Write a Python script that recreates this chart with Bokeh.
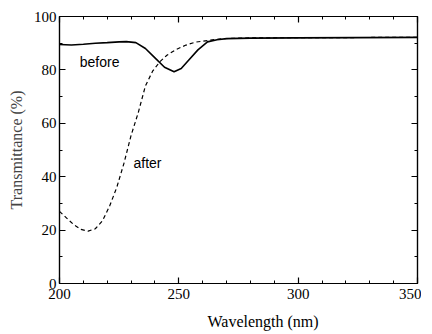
from bokeh.plotting import figure
from bokeh.models import LinearAxis, Range1d, Label, FixedTicker, Title
from bokeh.embed import file_html
from bokeh.resources import INLINE

# "before" curve (solid)
before_x = [200, 205, 210, 215, 220, 225, 228, 232, 236, 240, 244, 248, 251, 254, 258, 262, 266, 270, 280, 300, 350]
before_y = [89.5, 89.3, 89.6, 90.0, 90.2, 90.5, 90.6, 90.2, 88.0, 84.5, 81.0, 79.3, 80.5, 83.5, 87.5, 90.5, 91.3, 91.7, 91.9, 92.0, 92.2]

# "after" curve (dashed)
after_x = [200, 203, 206, 209, 212, 215, 218, 221, 224, 227, 230, 233, 236, 239, 242, 245, 249, 253, 257, 262, 268, 280, 350]
after_y = [27.0, 24.5, 22.0, 20.3, 19.6, 20.5, 23.5, 29.0, 36.0, 45.0, 55.5, 64.0, 74.0, 79.5, 83.0, 85.5, 87.7, 89.3, 90.4, 91.0, 91.7, 92.0, 92.2]

x_ticks = [200, 250, 300, 350]
y_ticks = [0, 20, 40, 60, 80, 100]
x_title = "Wavelength (nm)"
y_title = "Transmittance (%)"
curve_labels = ["before", "after"]
curve_label_x = [208.5, 231.0]
curve_label_y = [82.8, 45.3]

p = figure(frame_width=358, frame_height=267, output_backend="svg", toolbar_location=None,
           x_range=Range1d(200, 350), y_range=Range1d(0, 100),
           min_border_left=59, min_border_top=16, min_border_right=4, min_border_bottom=50)
p.background_fill_color = "white"
p.border_fill_color = "white"
p.grid.visible = False
p.outline_line_color = "black"
p.outline_line_width = 1.2

def style(ax, ticks, minor, labels=True):
    ax.ticker = FixedTicker(ticks=ticks, minor_ticks=minor)
    ax.major_tick_in = 6
    ax.major_tick_out = 0
    ax.minor_tick_in = 3
    ax.minor_tick_out = 0
    ax.axis_line_color = "black"
    ax.axis_line_width = 1.2
    ax.major_tick_line_width = 1.2
    ax.minor_tick_line_width = 1.0
    ax.major_label_text_font = "Liberation Serif"
    ax.major_label_text_font_size = "15px"
    ax.major_label_text_color = "black"
    if not labels:
        ax.major_label_overrides = {t: "" for t in ticks}
        ax.major_label_standoff = 0

xminor = list(range(200, 351, 10))
yminor = list(range(0, 101, 10))

style(p.xaxis[0], x_ticks, xminor)
p.xaxis[0].major_label_standoff = 5
style(p.yaxis[0], y_ticks, yminor)
p.yaxis[0].major_label_standoff = 3
p.yaxis[0].axis_label = y_title
p.yaxis[0].axis_label_text_font = "Liberation Serif"
p.yaxis[0].axis_label_text_font_style = "normal"
p.yaxis[0].axis_label_text_font_size = "16px"
p.yaxis[0].axis_label_standoff = 6

top = LinearAxis()
style(top, x_ticks, xminor, labels=False)
p.add_layout(top, "above")
right = LinearAxis()
style(right, y_ticks, yminor, labels=False)
p.add_layout(right, "right")

p.add_layout(Title(text=x_title, align="left", offset=148, text_font="Liberation Serif",
                   text_font_size="16px", text_font_style="normal", text_color="black",
                   standoff=18), "below")

p.line(before_x, before_y, line_color="black", line_width=1.6)
p.line(after_x, after_y, line_color="black", line_width=1.2, line_dash="4 3")

for t, lx, ly in zip(curve_labels, curve_label_x, curve_label_y):
    p.add_layout(Label(x=lx, y=ly, text=t, text_font="Liberation Sans", text_font_size="14px",
                       text_baseline="middle", text_align="left", text_color="black"))

open("out.html", "w").write(file_html(p, INLINE))
